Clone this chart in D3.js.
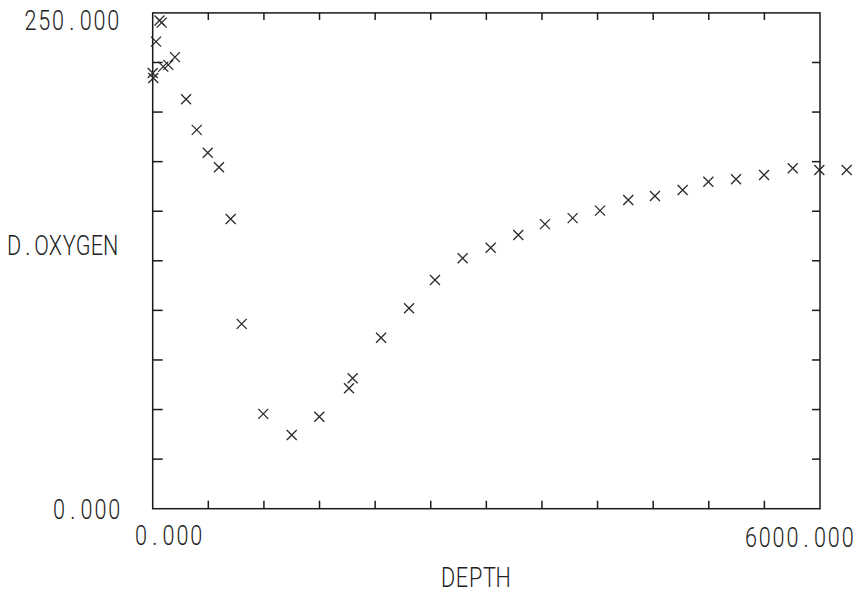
<!DOCTYPE html>
<html>
<head>
<meta charset="utf-8">
<script src="https://cdn.jsdelivr.net/npm/d3@7"></script>
<style>
  html, body { margin: 0; padding: 0; background: #fff; }
  svg text { font-family: Roboto, "DejaVu Sans", sans-serif; font-weight: 300; fill: #222; }
</style>
</head>
<body>
<svg id="chart" width="862" height="593"></svg>
<script>
// depth (m) and dissolved oxygen readings
const depth = [0, 5, 30, 61, 81, 95, 140, 200, 300, 396, 495, 596, 701, 800,
  994, 1250, 1498, 1765, 1798, 2053, 2305, 2538, 2787, 3039, 3287, 3527,
  3776, 4022, 4276, 4516, 4765, 4996, 5245, 5497, 5755, 5994, 6240];
const oxygen = [219.7, 217.2, 235.5, 246.2, 245.1, 222.9, 223.8, 227.7, 206.5,
  191.0, 179.5, 172.2, 146.1, 93.2, 47.8, 37.2, 46.4, 60.7, 65.8, 86.2, 101.1,
  115.3, 126.3, 131.6, 138.0, 143.5, 146.5, 150.3, 155.7, 157.7, 160.7, 164.9,
  166.1, 168.3, 171.7, 170.8, 170.8];

const xTicks = d3.range(500, 6000, 500);
const yTicks = d3.range(25, 250, 25);

const svg = d3.select("#chart");

const x = d3.scaleLinear().domain([0, 6000]).range([152.7, 820]);
const y = d3.scaleLinear().domain([0, 250]).range([508.7, 12.9]);

const ink = "#1a1a1a";

// frame
svg.append("rect")
  .attr("x", x(0)).attr("y", y(250))
  .attr("width", x(6000) - x(0)).attr("height", y(0) - y(250))
  .attr("fill", "none").attr("stroke", ink).attr("stroke-width", 1.5);

// ticks (inward)
const ticks = svg.append("g").attr("stroke", ink).attr("stroke-width", 1.5);
ticks.selectAll(".tb").data(xTicks).join("line")
  .attr("x1", d => x(d)).attr("x2", d => x(d))
  .attr("y1", y(0)).attr("y2", y(0) - 8);
ticks.selectAll(".tt").data(xTicks).join("line")
  .attr("x1", d => x(d)).attr("x2", d => x(d))
  .attr("y1", y(250)).attr("y2", y(250) + 7);
ticks.selectAll(".tl").data(yTicks).join("line")
  .attr("x1", x(0)).attr("x2", x(0) + 10)
  .attr("y1", d => y(d)).attr("y2", d => y(d));
ticks.selectAll(".tr").data(yTicks).join("line")
  .attr("x1", x(6000)).attr("x2", x(6000) - 8)
  .attr("y1", d => y(d)).attr("y2", d => y(d));

// points as x marks
const pts = depth.map((d, i) => ({ d, o: oxygen[i] }));
const h = 5;
svg.append("g")
  .attr("stroke", "#2a2a2a").attr("stroke-width", 1.3).attr("fill", "none")
  .selectAll("path").data(pts).join("path")
  .attr("d", p => {
    const cx = x(p.d), cy = y(p.o);
    return `M${cx - h},${cy - h}L${cx + h},${cy + h}M${cx - h},${cy + h}L${cx + h},${cy - h}`;
  });

// labels: plotter-style fixed character cells, narrow glyphs
const cell = 13.8;
const squeeze = 0.8;
function label(txt, firstCx, ly) {
  const xs = Array.from(txt, (c, i) => (i * cell / squeeze).toFixed(1));
  svg.append("text")
    .attr("transform", `translate(${firstCx},${ly}) scale(${squeeze},1)`)
    .attr("x", xs.join(" ")).attr("y", 0)
    .attr("font-size", 27)
    .attr("text-anchor", "middle")
    .text(txt);
}
label("250.000", 30.5, 29.5);
label("0.000", 59, 518.5);
label("D.OXYGEN", 14, 255);
label("0.000", 141, 545);
label("6000.000", 751, 546.5);
label("DEPTH", 448, 587);
</script>
</body>
</html>
